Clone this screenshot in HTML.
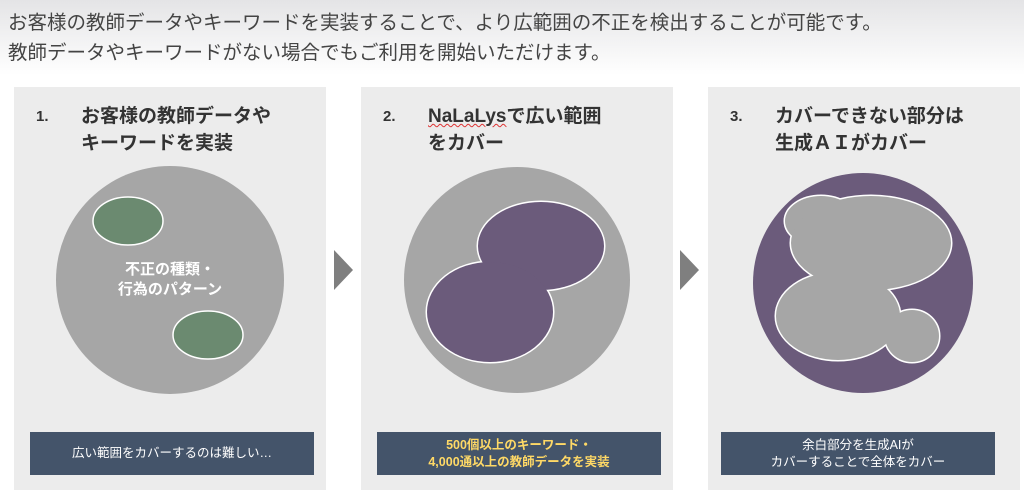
<!DOCTYPE html>
<html><head><meta charset="utf-8"><style>
body{margin:0;width:1024px;height:490px;overflow:hidden;background:#fff;font-family:"Liberation Sans","Noto Sans CJK JP",sans-serif;position:relative}
.hdr{position:absolute;left:0;top:0;width:1024px;height:75px;background:linear-gradient(#e4e4e6,#fff)}
.t{position:absolute;left:8px;font-size:19.5px;color:#444;white-space:nowrap}
.p{position:absolute;top:87px;height:403px;width:312px;background:#ececec}
.h{position:absolute;left:22px;top:16px;font-size:19px;font-weight:bold;color:#333;line-height:27px}
.h .n{position:absolute;left:0;font-size:15px}
.h .x{position:absolute;left:45px;white-space:nowrap}
.b{position:absolute;left:16px;top:345px;width:284px;height:43px;background:#44546a;color:#fff;font-size:12.5px;text-align:center;display:flex;align-items:center;justify-content:center;line-height:17px}
.arr{position:absolute;top:250px;width:0;height:0;border-top:20px solid transparent;border-bottom:20px solid transparent;border-left:19px solid #7f7f7f}
svg{position:absolute;left:0;top:0}
</style></head><body>
<div class="hdr"></div>
<div class="t" style="top:6px">お客様の教師データやキーワードを実装することで、より広範囲の不正を検出することが可能です。</div>
<div class="t" style="top:36px">教師データやキーワードがない場合でもご利用を開始いただけます。</div>

<div class="p" style="left:14px"><div class="h"><span class="n">1.</span><span class="x">お客様の教師データや<br>キーワードを実装</span></div><div class="b">広い範囲をカバーするのは難しい…</div></div>
<div class="p" style="left:361px"><div class="h"><span class="n">2.</span><span class="x"><span style="text-decoration:underline wavy #d33;text-decoration-thickness:1px">NaLaLys</span>で広い範囲<br>をカバー</span></div><div class="b" style="color:#ffd966;font-weight:bold">500個以上のキーワード・<br>4,000通以上の教師データを実装</div></div>
<div class="p" style="left:708px"><div class="h"><span class="n">3.</span><span class="x">カバーできない部分は<br>生成ＡＩがカバー</span></div><div class="b" style="left:13px;width:274px">余白部分を生成AIが<br>カバーすることで全体をカバー</div></div>
<div class="arr" style="left:334px"></div>
<div class="arr" style="left:680px"></div>

<svg width="1024" height="490">
<circle cx="170" cy="280" r="114" fill="#a6a6a6"/>
<ellipse cx="128" cy="221" rx="35" ry="24" fill="#6b8a70" stroke="#fff" stroke-width="1.5"/>
<ellipse cx="208" cy="335" rx="35" ry="24" fill="#6b8a70" stroke="#fff" stroke-width="1.5"/>
<text x="170" y="274" fill="#fff" font-size="15" font-weight="bold" text-anchor="middle" font-family="Liberation Sans,Noto Sans CJK JP,sans-serif">不正の種類・</text>
<text x="170" y="294" fill="#fff" font-size="15" font-weight="bold" text-anchor="middle" font-family="Liberation Sans,Noto Sans CJK JP,sans-serif">行為のパターン</text>

<circle cx="517" cy="280" r="113" fill="#a6a6a6"/>
<g fill="#6b5b7b" stroke="#fff" stroke-width="3">
<ellipse cx="541" cy="246" rx="63" ry="44"/>
<ellipse cx="490" cy="312" rx="63" ry="50"/>
</g>
<g fill="#6b5b7b">
<ellipse cx="541" cy="246" rx="63" ry="44"/>
<ellipse cx="490" cy="312" rx="63" ry="50"/>
</g>

<circle cx="863" cy="283" r="110" fill="#6b5b7b"/>
<g fill="#a6a6a6" stroke="#fff" stroke-width="3">
<ellipse cx="821" cy="221" rx="36" ry="25"/>
<ellipse cx="871" cy="243" rx="80" ry="47"/>
<ellipse cx="838" cy="316" rx="62" ry="44"/>
<ellipse cx="912" cy="336" rx="27" ry="26"/>
</g>
<g fill="#a6a6a6">
<ellipse cx="821" cy="221" rx="36" ry="25"/>
<ellipse cx="871" cy="243" rx="80" ry="47"/>
<ellipse cx="838" cy="316" rx="62" ry="44"/>
<ellipse cx="912" cy="336" rx="27" ry="26"/>
<rect x="845" y="270" width="40" height="40"/>
</g>
</svg>
</body></html>
